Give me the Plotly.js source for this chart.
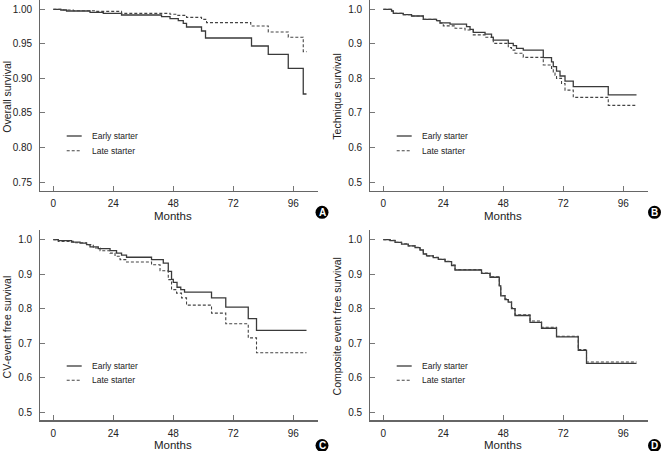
<!DOCTYPE html>
<html>
<head>
<meta charset="utf-8">
<script src="https://cdn.plot.ly/plotly-3.0.1.min.js"></script>
<style>html,body{margin:0;padding:0;background:#fff;}#chart{width:661px;height:451px;}</style>
</head>
<body>
<div id="chart"></div>
<script>
// ---- Data (Kaplan-Meier step curves) ----
const seriesNames = ["Early starter", "Late starter"];
const panelLetters = ["A", "B", "C", "D"];
const yTitles = ["Overall survival", "Technique survival", "CV-event free survival", "Composite event free survival"];
const xTitle = "Months";
const xTicks = [0, 24, 48, 72, 96];

// A: Overall survival
const aEarlyT = [0, 3, 5.3, 14.7, 20, 27.3, 43.3, 46.7, 50, 52, 53.3, 59.3, 60.9, 79.3, 86, 94, 100, 101.3];
const aEarlyS = [1, 0.999, 0.9976, 0.9957, 0.9942, 0.9918, 0.9894, 0.9865, 0.9836, 0.9797, 0.9744, 0.9686, 0.9585, 0.9469, 0.9348, 0.9146, 0.8774, 0.8774];
const aLateT = [0, 4, 8, 16.7, 27.3, 46.7, 49.3, 53.3, 59.3, 61.3, 79, 86, 94, 100, 101.3];
const aLateS = [1, 0.999, 0.998, 0.997, 0.9942, 0.9928, 0.9913, 0.9884, 0.9855, 0.9807, 0.9759, 0.9672, 0.9595, 0.9387, 0.9387];

// B: Technique survival
const bEarlyT = [0, 3.3, 4, 8, 11.3, 16, 21.3, 22.7, 26.7, 33.3, 34.7, 36, 40.7, 43.3, 44, 50, 52, 53.3, 56, 64, 67.3, 68, 69.3, 70.7, 72.7, 76, 90, 101.3];
const bEarlyS = [1, 0.9952, 0.9884, 0.9846, 0.9807, 0.971, 0.967, 0.961, 0.957, 0.95, 0.942, 0.933, 0.928, 0.919, 0.911, 0.9015, 0.895, 0.887, 0.882, 0.86, 0.848, 0.834, 0.821, 0.807, 0.792, 0.776, 0.752, 0.752];
const bLateT = [0, 3.3, 4, 8, 11.3, 16, 21.3, 22.7, 24, 28.7, 32.7, 36, 40.7, 44, 50, 51.3, 52.7, 56, 64, 67.3, 68, 68.7, 69.3, 71.3, 72.7, 76, 90, 101.3];
const bLateS = [1, 0.9952, 0.9884, 0.9846, 0.9807, 0.971, 0.967, 0.96, 0.952, 0.945, 0.94, 0.926, 0.919, 0.9015, 0.889, 0.882, 0.873, 0.861, 0.839, 0.829, 0.819, 0.809, 0.8, 0.785, 0.766, 0.745, 0.722, 0.722];

// C: CV-event free survival
const cEarlyT = [0, 2, 7.3, 10.7, 13.3, 14.7, 18, 22.7, 25.3, 27.3, 29.3, 39.3, 44, 46, 47.3, 48, 49.5, 51, 52.5, 63.3, 69, 78, 81.3, 101.3];
const cEarlyS = [1, 0.997, 0.993, 0.99, 0.9855, 0.979, 0.974, 0.968, 0.961, 0.955, 0.949, 0.942, 0.932, 0.908, 0.885, 0.876, 0.862, 0.855, 0.848, 0.831, 0.804, 0.771, 0.737, 0.737];
const cLateT = [0, 2, 8, 13.3, 16, 18.7, 22.7, 24.7, 26.7, 29.3, 39.3, 42.7, 46, 47.3, 49.3, 51.3, 53.3, 63.3, 69, 78, 81.3, 101.3];
const cLateS = [1, 0.995, 0.991, 0.9855, 0.976, 0.968, 0.961, 0.952, 0.942, 0.935, 0.927, 0.91, 0.884, 0.855, 0.845, 0.831, 0.81, 0.787, 0.756, 0.715, 0.672, 0.672];

// D: Composite event free survival
const dEarlyT = [0, 2.7, 4.7, 7.3, 10, 12.7, 14.7, 16, 17.3, 20, 22, 24.7, 27.3, 28.7, 39.3, 42.7, 46.4, 47, 48.7, 50, 51.3, 52.7, 58.7, 63.3, 69.3, 78, 81.3, 101.3];
const dEarlyS = [1, 0.997, 0.992, 0.987, 0.982, 0.977, 0.97, 0.958, 0.953, 0.948, 0.943, 0.936, 0.925, 0.912, 0.902, 0.891, 0.866, 0.837, 0.826, 0.819, 0.8, 0.78, 0.76, 0.743, 0.718, 0.679, 0.641, 0.641];
const dLateT = [0, 2.7, 4.7, 7.3, 10, 12.7, 14.7, 16, 17.3, 20, 22, 24.7, 27.3, 28.7, 39.3, 42.7, 46.4, 47, 48.7, 50, 51.3, 52.7, 58.7, 63.3, 69.3, 78, 81.3, 101.3];
const dLateS = [1, 0.998, 0.992, 0.988, 0.982, 0.978, 0.971, 0.959, 0.953, 0.949, 0.943, 0.937, 0.926, 0.913, 0.903, 0.892, 0.867, 0.838, 0.828, 0.82, 0.802, 0.782, 0.764, 0.746, 0.72, 0.681, 0.645, 0.645];

const panels = [
  {early: [aEarlyT, aEarlyS], late: [aLateT, aLateS], yr: [0.7374, 1.0135], dt: 0.05, fmt: ".2f"},
  {early: [bEarlyT, bEarlyS], late: [bLateT, bLateS], yr: [0.4748, 1.027], dt: 0.1, fmt: ".1f"},
  {early: [cEarlyT, cEarlyS], late: [cLateT, cLateS], yr: [0.476, 1.028], dt: 0.1, fmt: ".1f"},
  {early: [dEarlyT, dEarlyS], late: [dLateT, dLateS], yr: [0.476, 1.028], dt: 0.1, fmt: ".1f"}
];

// ---- Geometry (pixels) ----
const W = 661, H = 451;
const px = v => v / W, py = v => 1 - v / H;
const colL = [40.3, 317.5], colR = [370.3, 647.5];
const rowT = [0, 190.7], rowB = [230, 420.3];
const geo = [
  {x: colL, y: rowT}, {x: colR, y: rowT}, {x: colL, y: rowB}, {x: colR, y: rowB}
];
const xRange = [-5.2, 105.7];

const FONT = "'Liberation Sans', Arial, sans-serif";
const TXT = "#222";
const LINEC = "#3a3a3a";

const traces = [];
const layout = {
  width: W, height: H,
  margin: {l: 0, r: 0, t: 0, b: 0},
  paper_bgcolor: "#fff", plot_bgcolor: "#fff",
  showlegend: false,
  font: {family: FONT, color: TXT, size: 10},
  shapes: [], annotations: []
};

panels.forEach((p, i) => {
  const n = i === 0 ? "" : String(i + 1);
  const xa = "x" + n, ya = "y" + n;
  traces.push({
    x: p.early[0], y: p.early[1], xaxis: xa, yaxis: ya, type: "scatter", mode: "lines",
    name: seriesNames[0], line: {shape: "hv", color: LINEC, width: 1.3}
  });
  traces.push({
    x: p.late[0], y: p.late[1], xaxis: xa, yaxis: ya, type: "scatter", mode: "lines",
    name: seriesNames[1], line: {shape: "hv", color: "#444", width: 1.1, dash: "3px,2px"}
  });
  const g = geo[i];
  const axCommon = {
    showgrid: false, zeroline: false, showline: true, linecolor: "#666", linewidth: 1.2,
    ticks: "inside", ticklen: 5, tickcolor: "#777", tickwidth: 1,
    tickfont: {family: FONT, size: 10, color: TXT}
  };
  layout["xaxis" + n] = Object.assign({}, axCommon, {
    domain: [px(g.x[0]), px(g.x[1])], anchor: ya, range: xRange,
    tickvals: xTicks, ticktext: xTicks.map(String), ticklabelstandoff: 3
  });
  const yt = [];
  for (let v = 1.0; v >= p.yr[0] - 1e-9; v -= p.dt) yt.push(Math.round(v * 1000) / 1000);
  layout["yaxis" + n] = Object.assign({}, axCommon, {
    domain: [py(g.y[1]), py(g.y[0])], anchor: xa, range: p.yr,
    tickvals: yt, tickformat: p.fmt, ticklabelstandoff: 5
  });

  // axis titles
  const titleY = i < 2 ? 216.5 : 445;
  layout.annotations.push({xref: xa, yref: "paper", x: 48, y: py(titleY), xanchor: "center", yanchor: "middle",
    text: xTitle, showarrow: false, font: {family: FONT, size: 11.5, color: TXT}});
  layout.annotations.push({xref: "paper", yref: "paper", x: px(g.x[0] - 33.5), y: py((g.y[0] + g.y[1]) / 2 + 1.5),
    xanchor: "center", yanchor: "middle", textangle: -90,
    text: yTitles[i], showarrow: false, font: {family: FONT, size: 10.5, color: TXT}});

  // manual legend (sample lines + labels)
  const lx0 = g.x[0] + 26.4, lx1 = g.x[0] + 41.4, tx = g.x[0] + 49.7;
  const ly = i < 2 ? [136, 150.7] : [366, 380.3];
  layout.shapes.push({type: "line", xref: "paper", yref: "paper", x0: px(lx0), x1: px(lx1), y0: py(ly[0]), y1: py(ly[0]), line: {color: LINEC, width: 1.3}});
  layout.shapes.push({type: "line", xref: "paper", yref: "paper", x0: px(lx0), x1: px(lx1), y0: py(ly[1]), y1: py(ly[1]), line: {color: "#444", width: 1.1, dash: "3px,2px"}});
  seriesNames.forEach((s, k) => {
    layout.annotations.push({xref: "paper", yref: "paper", x: px(tx), y: py(ly[k]), xanchor: "left", yanchor: "middle",
      text: s, showarrow: false, font: {family: FONT, size: 8.5, color: TXT}});
  });

  // panel letter badge
  const cx = i % 2 === 0 ? 322 : 654.5;
  const cy = i < 2 ? 212.3 : 445.5;
  const r = 6.5;
  layout.shapes.push({type: "circle", xref: "paper", yref: "paper", x0: px(cx - r), x1: px(cx + r), y0: py(cy + r), y1: py(cy - r), fillcolor: "#000", line: {color: "#000", width: 0}});
  layout.annotations.push({xref: "paper", yref: "paper", x: px(cx), y: py(cy), xanchor: "center", yanchor: "middle",
    text: "<b>" + panelLetters[i] + "</b>", showarrow: false, font: {family: FONT, size: 10, color: "#fff"}});
});

Plotly.newPlot("chart", traces, layout, {staticPlot: true, displayModeBar: false});
</script>
</body>
</html>
